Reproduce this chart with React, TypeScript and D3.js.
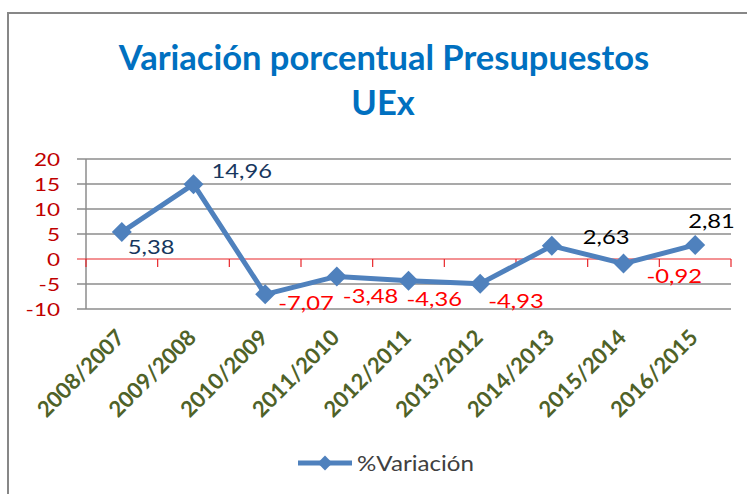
import React, { useEffect, useRef } from "react";
import * as d3 from "d3";

// periods (x categories) and % variation of the UEx budget
const periods = [
  "2008/2007",
  "2009/2008",
  "2010/2009",
  "2011/2010",
  "2012/2011",
  "2013/2012",
  "2014/2013",
  "2015/2014",
  "2016/2015",
];
const variation = [5.38, 14.96, -7.07, -3.48, -4.36, -4.93, 2.63, -0.92, 2.81];
const yTicks = [20, 15, 10, 5, 0, -5, -10];

// where Excel put each data label, relative to its point (layout only)
const labelOffsets: [number, number][] = [
  [6, 22], [18, -6], [13, 16], [6, 27], [-2, 25], [8, 24], [31, -2], [23, 19], [-7, -17],
];
const labelColors = ["#17375e", "#17375e", "#ff0000", "#ff0000", "#ff0000", "#ff0000", "#000", "#ff0000", "#000"];

const fmt = d3.formatLocale({ decimal: ",", thousands: ".", grouping: [3], currency: ["", "€"], minus: "-" }).format(".2f");

export default function App() {
  const ref = useRef<SVGSVGElement>(null);

  useEffect(() => {
    const node = ref.current;
    if (!node) return;
    const w = 747;
    const h = 494;
    const m = { t: 159, r: 16, b: 185, l: 86 }; // plot area 86..731 x 159..309
    const font = "Lato, 'Open Sans', sans-serif";
    const sx = 1.25; // the original picture is stretched sideways

    const svg = d3.select(node);
    svg.selectAll("*").remove();

    svg.append("rect").attr("width", w).attr("height", h).attr("fill", "#fff");
    // chart frame (only left/top visible)
    svg.append("rect")
      .attr("x", 8).attr("y", 13).attr("width", 800).attr("height", 600)
      .attr("fill", "none").attr("stroke", "#878787").attr("stroke-width", 2);

    // Title
    const title = svg.append("text")
      .attr("text-anchor", "middle")
      .attr("font-family", font)
      .attr("font-weight", 700)
      .attr("font-size", 34.5)
      .attr("fill", "#0070c0");
    title.append("tspan").attr("x", 384).attr("y", 70).text("Variación porcentual Presupuestos");
    title.append("tspan").attr("x", 383).attr("y", 115).text("UEx");

    const x = d3.scaleBand().domain(periods).range([m.l, w - m.r]);
    const y = d3.scaleLinear().domain([-10, 20]).range([h - m.b, m.t]);

    // grid lines with outward ticks
    svg.append("g").selectAll("line")
      .data(yTicks.filter(d => d !== 0))
      .enter().append("line")
      .attr("x1", m.l - 9).attr("x2", w - m.r)
      .attr("y1", d => y(d)).attr("y2", d => y(d))
      .attr("stroke", "#8c8c8c").attr("stroke-width", 1.5);

    // y axis line
    svg.append("line")
      .attr("x1", m.l).attr("x2", m.l)
      .attr("y1", y(20)).attr("y2", y(-10))
      .attr("stroke", "#8c8c8c").attr("stroke-width", 1.5);

    // zero line (category axis) in red, with ticks below
    svg.append("line")
      .attr("x1", m.l - 9).attr("x2", w - m.r)
      .attr("y1", y(0)).attr("y2", y(0))
      .attr("stroke", "#e8262a").attr("stroke-width", 1.2);
    const bounds = periods.map(p => x(p) as number).concat([w - m.r]);
    svg.append("g").selectAll("line")
      .data(bounds)
      .enter().append("line")
      .attr("x1", d => d).attr("x2", d => d)
      .attr("y1", y(0)).attr("y2", y(0) + 8)
      .attr("stroke", "#e8262a").attr("stroke-width", 1.2);

    // y tick labels
    svg.append("g").selectAll("text")
      .data(yTicks)
      .enter().append("text")
      .attr("transform", d => `translate(60,${y(d) + 6.5}) scale(${sx},1)`)
      .attr("text-anchor", "end")
      .attr("font-family", font)
      .attr("font-size", 18)
      .attr("fill", "#c00000")
      .text(d => d);

    // x labels, rotated
    svg.append("g").selectAll("text")
      .data(periods)
      .enter().append("text")
      .attr("transform", d => `translate(${(x(d) as number) + x.bandwidth() / 2 + 4},${y(-10) + 30}) rotate(-45)`)
      .attr("text-anchor", "end")
      .attr("font-family", font)
      .attr("font-weight", 700)
      .attr("font-size", 22)
      .attr("fill", "#4f6228")
      .text(d => d);

    const cx = (i: number) => (x(periods[i]) as number) + x.bandwidth() / 2;

    // series line
    const line = d3.line<number>().x((_, i) => cx(i)).y(d => y(d));
    svg.append("path")
      .datum(variation)
      .attr("d", line)
      .attr("fill", "none")
      .attr("stroke", "#4f81bd")
      .attr("stroke-width", 5)
      .attr("stroke-linejoin", "round");

    const diamond = d3.symbol().type(d3.symbolSquare).size(200);
    svg.append("g").selectAll("path")
      .data(variation)
      .enter().append("path")
      .attr("d", diamond)
      .attr("transform", (d, i) => `translate(${cx(i)},${y(d)}) rotate(45)`)
      .attr("fill", "#4f81bd");

    // data labels
    svg.append("g").selectAll("text")
      .data(variation)
      .enter().append("text")
      .attr("transform", (d, i) => `translate(${cx(i) + labelOffsets[i][0]},${y(d) + labelOffsets[i][1]}) scale(${sx},1)`)
      .attr("font-family", font)
      .attr("font-size", 19)
      .attr("fill", (_, i) => labelColors[i])
      .text(d => fmt(d));

    // legend
    const lg = svg.append("g").attr("transform", "translate(298,463)");
    lg.append("line").attr("x1", 0).attr("x2", 54).attr("stroke", "#4f81bd").attr("stroke-width", 5);
    lg.append("path")
      .attr("d", d3.symbol().type(d3.symbolSquare).size(110)())
      .attr("transform", "translate(27,0) rotate(45)")
      .attr("fill", "#4f81bd");
    lg.append("text")
      .attr("transform", `translate(59,8) scale(1.15,1)`)
      .attr("font-family", font)
      .attr("font-size", 21)
      .attr("fill", "#404040")
      .text("%Variación");
  }, []);

  return (
    <svg
      ref={ref}
      width={747}
      height={494}
      style={{ position: "absolute", left: 0, top: 0, display: "block" }}
    />
  );
}
